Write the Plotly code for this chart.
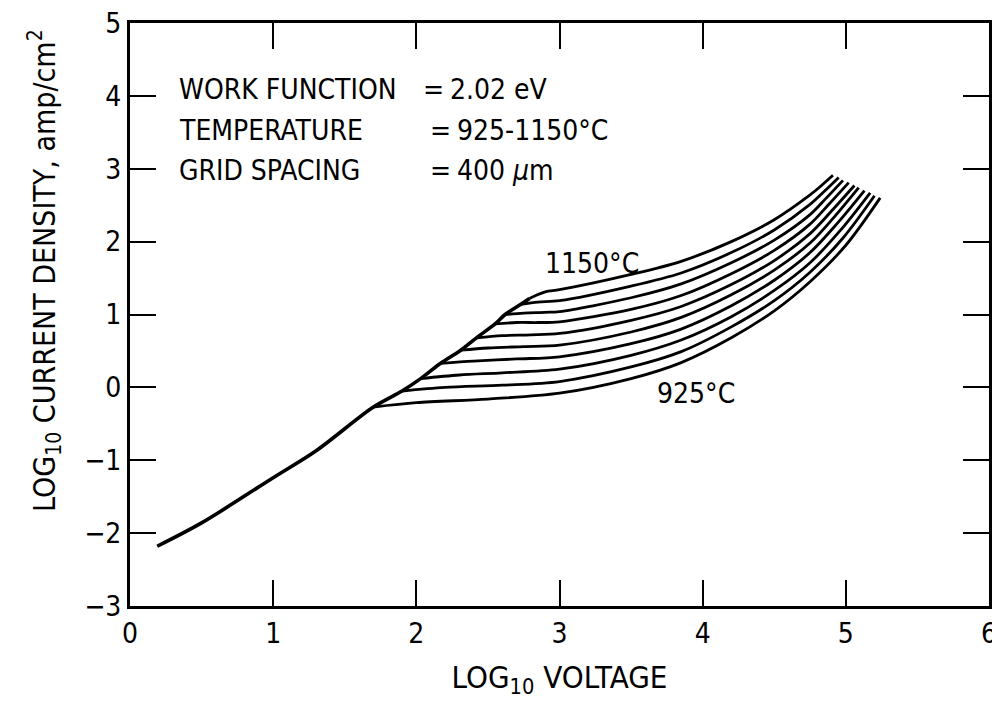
import plotly.graph_objects as go

FONT = "Liberation Sans Narrow, DejaVu Sans Condensed, sans-serif"

# Common (space-charge) line and the envelope along which curves depart
env_x = [0.19, 0.5, 1.0, 1.3, 1.70, 1.90, 2.03, 2.17, 2.31, 2.42, 2.55, 2.62, 2.73, 2.79]
env_y = [-2.18, -1.86, -1.24, -0.87, -0.27, -0.05, 0.12, 0.33, 0.51, 0.68, 0.87, 1.00, 1.14, 1.22]

temps = ["925", "950", "975", "1000", "1025", "1050", "1075", "1100", "1125", "1150"]

# Branch curves (from departure point to end), lowest (925 C) to highest (1150 C)
c925_x = [1.70, 2.0, 2.5, 3.0, 3.5, 3.85, 4.2, 4.5, 4.75, 5.0, 5.24]
c925_y = [-0.27, -0.21, -0.16, -0.08, 0.12, 0.34, 0.68, 1.05, 1.45, 1.95, 2.60]
c950_x = [1.90, 2.2, 2.6, 3.0, 3.5, 3.85, 4.2, 4.5, 4.75, 4.98, 5.20]
c950_y = [-0.05, 0.0, 0.03, 0.08, 0.28, 0.49, 0.83, 1.19, 1.58, 2.05, 2.63]
c975_x = [2.03, 2.3, 2.6, 3.0, 3.5, 3.85, 4.2, 4.5, 4.75, 4.96, 5.17]
c975_y = [0.12, 0.17, 0.20, 0.25, 0.44, 0.65, 0.97, 1.33, 1.71, 2.15, 2.67]
c1000_x = [2.17, 2.4, 2.7, 3.0, 3.5, 3.85, 4.2, 4.5, 4.75, 4.94, 5.13]
c1000_y = [0.33, 0.36, 0.39, 0.42, 0.60, 0.80, 1.12, 1.47, 1.85, 2.25, 2.70]
c1025_x = [2.31, 2.5, 2.75, 3.0, 3.5, 3.85, 4.2, 4.5, 4.75, 4.92, 5.09]
c1025_y = [0.51, 0.54, 0.56, 0.58, 0.76, 0.96, 1.27, 1.61, 1.98, 2.34, 2.74]
c1050_x = [2.42, 2.6, 2.8, 3.0, 3.5, 3.85, 4.2, 4.5, 4.75, 4.90, 5.06]
c1050_y = [0.68, 0.71, 0.72, 0.74, 0.92, 1.11, 1.41, 1.74, 2.11, 2.42, 2.77]
c1075_x = [2.55, 2.7, 2.85, 3.0, 3.5, 3.85, 4.2, 4.5, 4.75, 4.88, 5.02]
c1075_y = [0.87, 0.89, 0.89, 0.90, 1.07, 1.26, 1.56, 1.88, 2.24, 2.51, 2.81]
c1100_x = [2.62, 2.75, 2.9, 3.0, 3.5, 3.85, 4.2, 4.5, 4.75, 4.86, 4.98]
c1100_y = [1.00, 1.02, 1.03, 1.04, 1.23, 1.42, 1.71, 2.02, 2.37, 2.59, 2.84]
c1125_x = [2.73, 2.85, 3.0, 3.5, 3.85, 4.2, 4.5, 4.75, 4.85, 4.95]
c1125_y = [1.14, 1.17, 1.19, 1.39, 1.57, 1.85, 2.16, 2.51, 2.69, 2.88]
c1150_x = [2.79, 2.9, 3.0, 3.5, 3.85, 4.2, 4.5, 4.75, 4.83, 4.91]
c1150_y = [1.22, 1.31, 1.34, 1.55, 1.73, 2.00, 2.30, 2.64, 2.77, 2.91]

curves_x = [c925_x, c950_x, c975_x, c1000_x, c1025_x, c1050_x, c1075_x, c1100_x, c1125_x, c1150_x]
curves_y = [c925_y, c950_y, c975_y, c1000_y, c1025_y, c1050_y, c1075_y, c1100_y, c1125_y, c1150_y]

x_ticks = [0, 1, 2, 3, 4, 5, 6]
y_ticks = [-3, -2, -1, 0, 1, 2, 3, 4, 5]

fig = go.Figure()
fig.add_trace(go.Scatter(x=env_x, y=env_y, mode="lines",
                         line=dict(color="black", width=3.6, shape="spline", smoothing=0.9),
                         showlegend=False, hoverinfo="skip"))
for t, cx, cy in zip(temps, curves_x, curves_y):
    fig.add_trace(go.Scatter(x=cx, y=cy, mode="lines", name=t + "°C",
                             line=dict(color="black", width=2.8, shape="spline", smoothing=0.9),
                             showlegend=False))

txt = dict(family=FONT, size=28, color="black")
info_names = ["WORK FUNCTION", "TEMPERATURE", "GRID SPACING"]
info_values = ["2.02 eV", "925-1150°C", "400 <i>μ</i>m"]
info_y = [4.09, 3.52, 2.98]
eq_x = [2.03, 2.08, 2.08]
val_x = [2.22, 2.27, 2.27]
for name, val, yy, ex, vx in zip(info_names, info_values, info_y, eq_x, val_x):
    fig.add_annotation(x=0.33, y=yy, text=name, showarrow=False, xanchor="left",
                       yanchor="middle", font=txt)
    fig.add_annotation(x=ex, y=yy, text="=", showarrow=False, xanchor="left",
                       yanchor="middle", font=txt)
    fig.add_annotation(x=vx, y=yy, text=val, showarrow=False, xanchor="left",
                       yanchor="middle", font=txt)

fig.add_annotation(x=3.23, y=1.70, text="1150°C", showarrow=False, font=txt)
fig.add_annotation(x=3.95, y=-0.08, text="925°C", showarrow=False, font=txt)

fig.add_annotation(xref="paper", yref="paper", x=-0.0993, y=0.576, textangle=-90,
                   xanchor="center", yanchor="middle",
                   text="LOG<sub>10</sub> CURRENT DENSITY, amp/cm<sup>2</sup>",
                   showarrow=False, font=dict(family=FONT, size=30, color="black"))

axis_common = dict(showgrid=False, zeroline=False, showline=True, linecolor="black",
                   linewidth=3, mirror="ticks", ticks="inside", ticklen=26, tickwidth=2,
                   tickcolor="black", automargin=False, ticklabeloverflow="allow",
                   tickfont=dict(family=FONT, size=28, color="black"))

# page body adds an 8px offset, so the figure is sized to fit the 1000x709 window
fig.update_layout(
    width=992, height=701,
    margin=dict(l=122, r=11, t=15, b=103),
    paper_bgcolor="white", plot_bgcolor="white",
    xaxis=dict(range=[0, 6], tickvals=x_ticks,
               title=dict(text="LOG<sub>10</sub> VOLTAGE", font=dict(family=FONT, size=31, color="black"),
                          standoff=18),
               **axis_common),
    yaxis=dict(range=[-3, 5], tickvals=y_ticks, **axis_common),
)

fig.write_html("out.html")
